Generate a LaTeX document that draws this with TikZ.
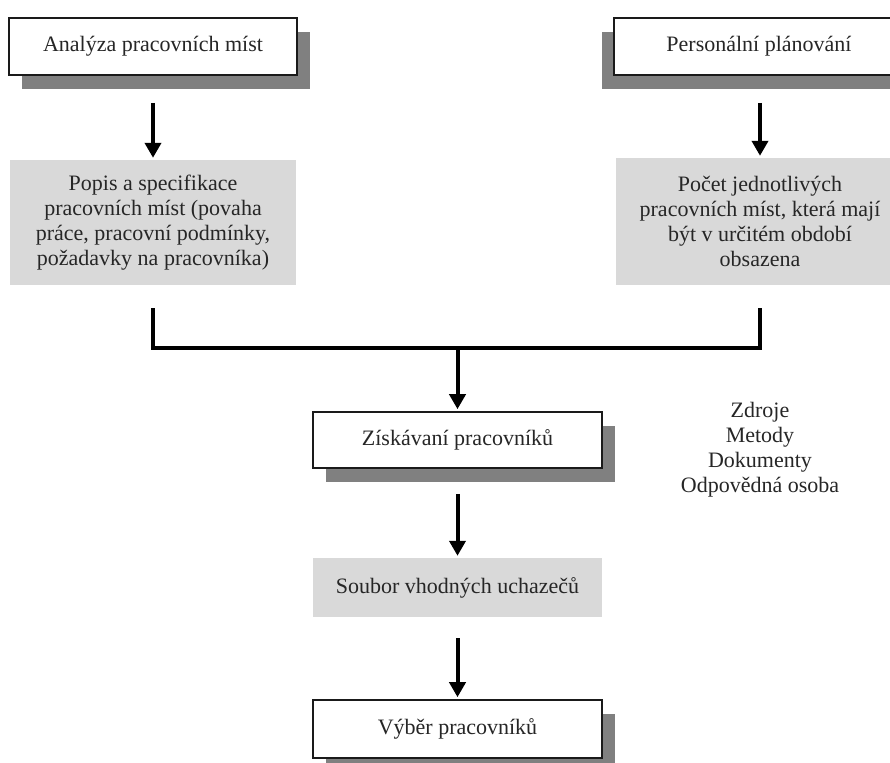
\documentclass[tikz,border=0pt]{standalone}
\usepackage{fontspec}
\setmainfont{Liberation Serif}
\usetikzlibrary{arrows.meta,shadows}
\definecolor{boxgray}{HTML}{D9D9D9}
\definecolor{shadowgray}{HTML}{808080}
\definecolor{linecol}{HTML}{1A1A1A}
\definecolor{txtcol}{HTML}{262626}
\begin{document}
\begin{tikzpicture}[x=1pt,y=-1pt,
  every node/.style={font=\fontsize{22}{25}\selectfont, text=txtcol, align=center, inner sep=0pt},
  whitebox/.style={draw=linecol, line width=1.6pt, fill=white, minimum width=#1, minimum height=57pt},
  rshadow/.style={drop shadow={shadow xshift=13pt, shadow yshift=-14pt, fill=shadowgray, opacity=1}},
  lshadow/.style={drop shadow={shadow xshift=-12pt, shadow yshift=-14pt, fill=shadowgray, opacity=1}},
  graybox/.style={fill=boxgray, minimum width=#1},
  arr/.style={line width=4pt, draw=black, -{Triangle[width=16pt,length=15pt]}, shorten >=2pt},
  bracket/.style={line width=4pt, draw=black}
]
\useasboundingbox (0,0) rectangle (890,762);

\node[whitebox=288pt, rshadow] (b1) at (153,46.5) {Analýza pracovních míst};
\node[whitebox=290pt, lshadow] (b2) at (759,46.5) {Personální plánování};

\node[graybox=286pt, minimum height=125pt] (g1) at (153,222.5) {Popis a specifikace\\pracovních míst (povaha\\práce, pracovní podmínky,\\požadavky na pracovníka)};
\node[graybox=288pt, minimum height=127pt] (g2) at (760,221.5) {Počet jednotlivých\\pracovních míst, která mají\\být v určitém období\\obsazena};

\node[whitebox=289pt, minimum height=56pt, rshadow] (z) at (457.5,440) {Získávaní pracovníků};
\node[graybox=289pt, minimum height=59pt] (s) at (457.5,587.5) {Soubor vhodných uchazečů};
\node[whitebox=289pt, minimum height=58pt, rshadow] (v) at (457.5,729) {Výběr pracovníků};

\node (info) at (760,449.5) {Zdroje\\Metody\\Dokumenty\\Odpovědná osoba};

\draw[arr] ([yshift=-27pt]b1.south) -- (g1.north);
\draw[arr] ([yshift=-27pt]g2.north |- b2.south) -- (g2.north);

\coordinate (j1) at ([yshift=-23pt]g1.south);
\coordinate (j2) at ([yshift=-23pt]g2.south);
\draw[bracket] (j1) -- ++(0,40) -| (j2);
\draw[arr] (z.north |- 0,348) -- (z.north);

\draw[arr] ([yshift=-25pt]z.south) -- (s.north);
\draw[arr] ([yshift=-21pt]s.south) -- (v.north);
\end{tikzpicture}
\end{document}
